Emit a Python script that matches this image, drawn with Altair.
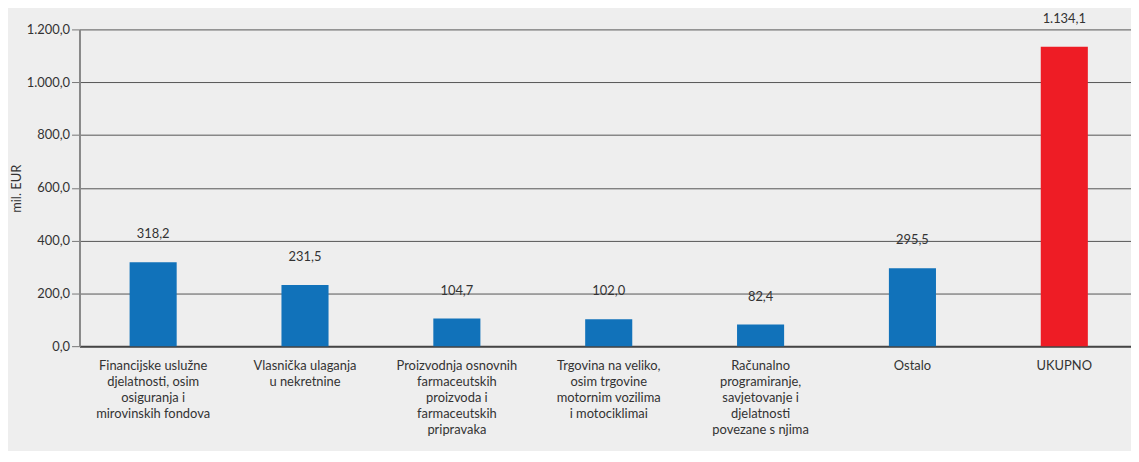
import altair as alt
import pandas as pd

categories = [
    "Financijske uslužne djelatnosti, osim osiguranja i mirovinskih fondova",
    "Vlasnička ulaganja u nekretnine",
    "Proizvodnja osnovnih farmaceutskih proizvoda i farmaceutskih pripravaka",
    "Trgovina na veliko, osim trgovine motornim vozilima i motociklimai",
    "Računalno programiranje, savjetovanje i djelatnosti povezane s njima",
    "Ostalo",
    "UKUPNO",
]
label_lines = [
    ["Financijske uslužne", "djelatnosti, osim", "osiguranja i", "mirovinskih fondova"],
    ["Vlasnička ulaganja", "u nekretnine"],
    ["Proizvodnja osnovnih", "farmaceutskih", "proizvoda i", "farmaceutskih", "pripravaka"],
    ["Trgovina na veliko,", "osim trgovine", "motornim vozilima", "i motociklimai"],
    ["Računalno", "programiranje,", "savjetovanje i", "djelatnosti", "povezane s njima"],
    ["Ostalo"],
    ["UKUPNO"],
]
values = [318.2, 231.5, 104.7, 102.0, 82.4, 295.5, 1134.1]
value_labels = ["318,2", "231,5", "104,7", "102,0", "82,4", "295,5", "1.134,1"]
is_total = [False, False, False, False, False, False, True]

df = pd.DataFrame({
    "cat": categories,
    "value": values,
    "label": value_labels,
    "total": is_total,
})

label_map = {c: l for c, l in zip(categories, label_lines)}
expr_parts = " : ".join(
    [f"datum.value == {c!r} ? {l!r}" for c, l in label_map.items()]
) + " : datum.value"

FONT = "Lato"

x_scale = alt.Scale(paddingInner=0.69, paddingOuter=0.33, range=[0, 1066])

x = alt.X(
    "cat:N",
    sort=categories,
    title=None,
    scale=x_scale,
    axis=alt.Axis(
        labelAngle=0,
        labelExpr=expr_parts,
        labelFontSize=13,
        labelColor="#333333",
        labelFont=FONT,
        labelLineHeight=16,
        labelPadding=14,
        ticks=False,
        domainColor="#444444",
        domainWidth=2,
        labelLimit=200,
    ),
)

y = alt.Y(
    "value:Q",
    title="mil. EUR",
    scale=alt.Scale(domain=[0, 1200]),
    axis=alt.Axis(
        values=[0, 200, 400, 600, 800, 1000, 1200],
        labelExpr="replace(replace(replace(format(datum.value, ',.1f'), ',', '_'), '.', ','), '_', '.')",
        labelFontSize=13,
        labelColor="#333333",
        labelFont=FONT,
        titleFont=FONT,
        titleFontSize=13,
        titleFontWeight="normal",
        titleColor="#333333",
        titleAngle=270,
        titleX=-56,
        titleY=160,
        titleBaseline="bottom",
        titleAlign="center",
        tickSize=8,
        tickColor="#777777",
        domainColor="#888888",
        domainWidth=2,
        gridColor="#555555",
        gridWidth=1,
    ),
)

bars = alt.Chart(df).mark_bar().encode(
    x=x,
    y=y,
    color=alt.Color(
        "total:N",
        scale=alt.Scale(domain=[False, True], range=["#1172BA", "#EE1C25"]),
        legend=None,
    ),
)

texts = alt.Chart(df).mark_text(
    dy=-28, fontSize=13, color="#333333", font=FONT
).encode(
    x=alt.X("cat:N", sort=categories),
    y=alt.Y("value:Q"),
    text="label:N",
)

chart = (bars + texts).properties(
    width=1059,
    height=319,
    background="#EEEEEE",
    autosize=alt.AutoSizeParams(type="none"),
    padding={"left": 72, "top": 20, "right": 0, "bottom": 104},
).configure_view(stroke=None)

chart.save("out.html", embed_options={"renderer": "svg", "actions": False})
